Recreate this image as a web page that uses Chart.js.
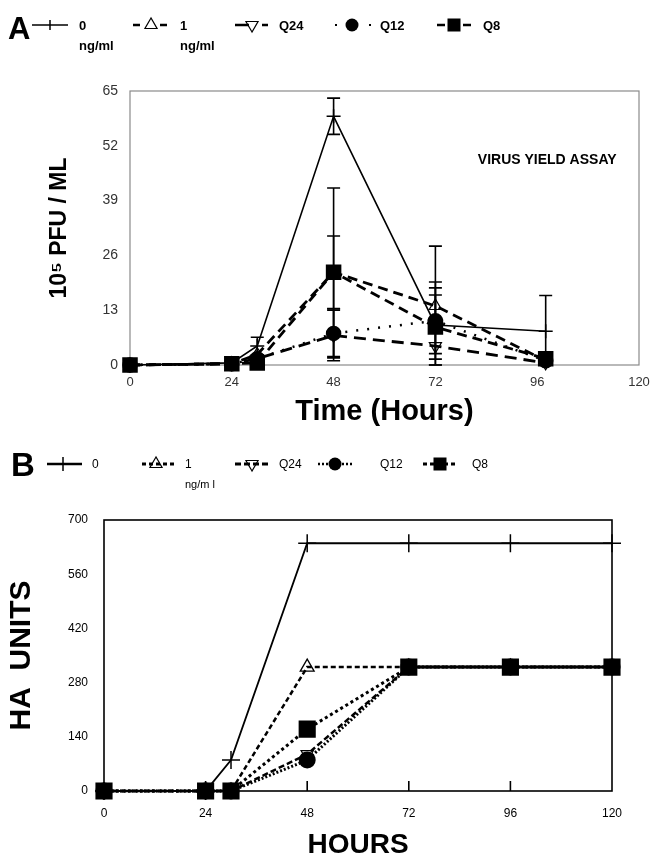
<!DOCTYPE html>
<html><head><meta charset="utf-8">
<script src="https://cdn.jsdelivr.net/npm/chart.js@4.4.0/dist/chart.umd.min.js"></script>
<style>
html,body{margin:0;padding:0;background:#fff;}
body{width:654px;height:859px;overflow:hidden;position:relative;font-family:"Liberation Sans",Arial,sans-serif;}
canvas{position:absolute;left:0;}
#ca{top:0;}
#cb{top:430px;}
.t{position:absolute;color:#000;white-space:nowrap;line-height:1;}
svg{position:absolute;left:0;overflow:visible;}
</style></head><body>
<canvas id="ca" width="654" height="430"></canvas>
<canvas id="cb" width="654" height="429"></canvas>
<div id="legends"></div>
<script>
// ---------- data: panel A (virus yield) ----------
const hoursA = [0, 24, 30, 48, 72, 98];
const yieldZero = [0, 0.5, 4.5, 59, 9.5, 8];
const yieldOne  = [0, 0.3, 2.5, 22, 14, 1];
const yieldQ24  = [0, 0.3, 1.5, 7, 4.5, 0.5];
const yieldQ12  = [0, 0.3, 1.5, 7.5, 10.5, 1];
const yieldQ8   = [0, 0.3, 0.5, 22, 9, 1.5];
const errZero = [0, 0, 2.1, 4.3, 18.7, 8.5];
const errOne  = [0, 0, 0, 8.6, 5.7, 0];
const errQ24  = [0, 0, 0, 6, 4.5, 0];
const errQ12  = [0, 0, 0, 5.8, 7.8, 0];
const errQ8   = [0, 0, 0, 20, 7.6, 0];
const xTicksA = [0, 24, 48, 72, 96, 120];
const yTicksA = [0, 13, 26, 39, 52, 65];

// ---------- data: panel B (HA units) ----------
const hoursB = [0, 24, 30, 48, 72, 96, 120];
const haZero = [0, 0, 80, 640, 640, 640, 640];
const haOne  = [0, 0, 0, 320, 320, 320, 320];
const haQ24  = [0, 0, 0, 95, 320, 320, 320];
const haQ12  = [0, 0, 0, 80, 320, 320, 320];
const haQ8   = [0, 0, 0, 160, 320, 320, 320];
const xTicksB = [0, 24, 48, 72, 96, 120];
const yTicksB = [0, 140, 280, 420, 560, 700];

const seriesNames = ['0', '1', 'Q24', 'Q12', 'Q8'];
const unitA = 'ng/ml';
const unitB = 'ng/m l';
const noteA = 'VIRUS YIELD ASSAY';

const FONT = '"Liberation Sans", Arial, sans-serif';
Chart.defaults.font.family = FONT;
Chart.defaults.color = '#000';

function pts(xs, ys) { return xs.map((x, i) => ({x: x, y: ys[i]})); }

const framePlugin = {
  id: 'frame',
  beforeDatasetsDraw(chart, args, opts) {
    const a = chart.chartArea, ctx = chart.ctx;
    ctx.save();
    ctx.strokeStyle = opts.color; ctx.lineWidth = opts.width;
    ctx.strokeRect(a.left, a.top, a.right - a.left, a.bottom - a.top);
    if (opts.innerTicks) {
      const xs = chart.scales.x;
      opts.innerTicks.forEach(v => {
        const px = xs.getPixelForValue(v);
        ctx.beginPath(); ctx.moveTo(px, a.bottom); ctx.lineTo(px, a.bottom - 10); ctx.stroke();
      });
    }
    ctx.restore();
  }
};

const errPlugin = {
  id: 'errbars',
  afterDatasetsDraw(chart, args, opts) {
    if (!opts.errs) return;
    const ctx = chart.ctx, xs = chart.scales.x, ys = chart.scales.y;
    ctx.save();
    ctx.strokeStyle = '#000'; ctx.lineWidth = 1.6; ctx.setLineDash([]);
    chart.data.datasets.forEach((ds, i) => {
      const e = opts.errs[i];
      ds.data.forEach((p, j) => {
        if (!e[j]) return;
        const px = xs.getPixelForValue(p.x);
        const top = ys.getPixelForValue(p.y + e[j]);
        const bot = ys.getPixelForValue(Math.max(0, p.y - e[j]));
        ctx.beginPath();
        ctx.moveTo(px, top); ctx.lineTo(px, bot);
        ctx.moveTo(px - 6.5, top); ctx.lineTo(px + 6.5, top);
        ctx.moveTo(px - 6.5, bot); ctx.lineTo(px + 6.5, bot);
        ctx.stroke();
      });
    });
    ctx.restore();
  }
};

const notePlugin = {
  id: 'note',
  afterDraw(chart, args, opts) {
    if (!opts.text) return;
    const ctx = chart.ctx;
    ctx.save();
    ctx.font = 'bold 14px ' + FONT;
    ctx.fillStyle = '#000'; ctx.textAlign = 'left'; ctx.textBaseline = 'middle';
    ctx.fillText(opts.text, chart.scales.x.getPixelForValue(opts.x), chart.scales.y.getPixelForValue(opts.y));
    ctx.restore();
  }
};

function ds(label, xs, ys, st) {
  return Object.assign({
    label: label, data: pts(xs, ys), borderColor: '#000', pointBorderColor: '#000',
    fill: false, tension: 0, clip: false
  }, st);
}
function noSidePad(s) { s.paddingLeft = 0; s.paddingRight = 0; }

// ---------- Chart A ----------
new Chart(document.getElementById('ca'), {
  type: 'line',
  data: { datasets: [
    ds(seriesNames[0], hoursA, yieldZero, {borderWidth: 1.6, pointStyle: 'cross', pointRadius: 7, pointBorderWidth: 1.5, order: 4}),
    ds(seriesNames[1], hoursA, yieldOne, {borderWidth: 2.8, borderDash: [10, 6], pointStyle: 'triangle', pointRadius: 7, pointBorderWidth: 1.2, pointBackgroundColor: 'rgba(0,0,0,0)', order: 3}),
    ds(seriesNames[2], hoursA, yieldQ24, {borderWidth: 2.8, borderDash: [12, 7], pointStyle: 'triangle', pointRotation: 180, pointRadius: 7, pointBorderWidth: 1.2, pointBackgroundColor: 'rgba(0,0,0,0)', order: 2}),
    ds(seriesNames[3], hoursA, yieldQ12, {borderWidth: 2.5, borderDash: [2, 9], pointStyle: 'circle', pointRadius: 6.5, pointBackgroundColor: '#000', order: 1}),
    ds(seriesNames[4], hoursA, yieldQ8, {borderWidth: 2.8, borderDash: [10, 6], pointStyle: 'rect', pointRadius: 9, pointBackgroundColor: '#000', order: 0})
  ]},
  options: {
    responsive: false, animation: false, events: [], devicePixelRatio: 1,
    layout: {padding: {left: 46, right: 15, top: 91, bottom: 0}},
    plugins: {
      legend: {display: false}, tooltip: {enabled: false},
      frame: {color: '#8a8a8a', width: 1.2},
      errbars: {errs: [errZero, errOne, errQ24, errQ12, errQ8]},
      note: {text: noteA, x: 82, y: 48.5}
    },
    scales: {
      x: {
        type: 'linear', min: 0, max: 120,
        afterBuildTicks: s => { s.ticks = xTicksA.map(v => ({value: v})); },
        afterFit: s => { s.height = 65; noSidePad(s); },
        grid: {display: false, drawTicks: false}, border: {display: false},
        ticks: {padding: 10, font: {size: 13}, color: '#333', maxRotation: 0, autoSkip: false},
        title: {display: true, text: 'Time (Hours)', font: {size: 29, weight: 'bold'}, color: '#000', padding: {top: 0, bottom: 1}}
      },
      y: {
        type: 'linear', min: 0, max: 65,
        afterBuildTicks: s => { s.ticks = yTicksA.map(v => ({value: v})); },
        afterFit: s => { s.width = 84; },
        grid: {display: false, drawTicks: false}, border: {display: false},
        ticks: {padding: 12, font: {size: 14}, color: '#333', autoSkip: false},
        title: {display: true, text: '10\u2075 PFU / ML', font: {size: 23, weight: 'bold'}, color: '#000', padding: {top: 0, bottom: 0}}
      }
    }
  },
  plugins: [framePlugin, errPlugin, notePlugin]
});

// ---------- Chart B ----------
new Chart(document.getElementById('cb'), {
  type: 'line',
  data: { datasets: [
    ds(seriesNames[0], hoursB, haZero, {borderWidth: 1.8, pointStyle: 'cross', pointRadius: 9, pointBorderWidth: 1.5, order: 4}),
    ds(seriesNames[1], hoursB, haOne, {borderWidth: 2.5, borderDash: [5, 3], pointStyle: 'triangle', pointRadius: 8, pointBorderWidth: 1.3, pointBackgroundColor: 'rgba(0,0,0,0)', order: 3}),
    ds(seriesNames[2], hoursB, haQ24, {borderWidth: 2.5, borderDash: [6, 3], pointStyle: 'triangle', pointRotation: 180, pointRadius: 7, pointBorderWidth: 1.3, pointBackgroundColor: 'rgba(0,0,0,0)', order: 2}),
    ds(seriesNames[3], hoursB, haQ12, {borderWidth: 3, borderDash: [2, 2], pointStyle: 'circle', pointRadius: 7, pointBackgroundColor: '#000', order: 1}),
    ds(seriesNames[4], hoursB, haQ8, {borderWidth: 3, borderDash: [3, 3], pointStyle: 'rect', pointRadius: 10, pointBackgroundColor: '#000', order: 0,
      segment: {borderDash: c => (c.p0.parsed.x >= 72 ? [] : [3, 3])}})
  ]},
  options: {
    responsive: false, animation: false, events: [], devicePixelRatio: 1,
    layout: {padding: {left: 4, right: 42, top: 90, bottom: 0}},
    plugins: {
      legend: {display: false}, tooltip: {enabled: false},
      frame: {color: '#000', width: 1.6, innerTicks: xTicksB.slice(1, -1)}
    },
    scales: {
      x: {
        type: 'linear', min: 0, max: 120,
        afterBuildTicks: s => { s.ticks = xTicksB.map(v => ({value: v})); },
        afterFit: s => { s.height = 68; noSidePad(s); },
        grid: {display: false, drawTicks: false}, border: {display: false},
        ticks: {padding: 15, font: {size: 12}, color: '#000', maxRotation: 0, autoSkip: false},
        title: {display: true, text: 'HOURS', font: {size: 28, weight: 'bold', lineHeight: 1}, color: '#000', padding: {top: 0, bottom: 0}}
      },
      y: {
        type: 'linear', min: 0, max: 700,
        afterBuildTicks: s => { s.ticks = yTicksB.map(v => ({value: v})); },
        afterFit: s => { s.width = 100; },
        grid: {display: false, drawTicks: false}, border: {display: false},
        ticks: {padding: 16, font: {size: 12}, color: '#000', autoSkip: false},
        title: {display: true, text: 'HA  UNITS', font: {size: 30, weight: 'bold'}, color: '#000', padding: {top: 0, bottom: 0}}
      }
    }
  },
  plugins: [framePlugin]
});

// ---------- HTML legends ----------
const L = document.getElementById('legends');
function addText(txt, x, y, size, weight) {
  const d = document.createElement('div');
  d.className = 't'; d.textContent = txt;
  d.style.left = x + 'px'; d.style.top = (y - size / 2) + 'px';
  d.style.fontSize = size + 'px'; d.style.fontWeight = weight;
  L.appendChild(d);
}
function marker(m, mx, y, s) {
  const k = s * 0.866;
  if (m === 'plus') return `<line x1="${mx}" y1="${y - s}" x2="${mx}" y2="${y + s}" stroke="#000" stroke-width="1.5"/>`;
  if (m === 'tri') return `<polygon points="${mx},${y - s} ${mx - k},${y + s / 2} ${mx + k},${y + s / 2}" fill="none" stroke="#000" stroke-width="1.2"/>`;
  if (m === 'itri') return `<polygon points="${mx},${y + s} ${mx - k},${y - s / 2} ${mx + k},${y - s / 2}" fill="none" stroke="#000" stroke-width="1.2"/>`;
  if (m === 'circle') return `<circle cx="${mx}" cy="${y}" r="${s}" fill="#000"/>`;
  if (m === 'rect') return `<rect x="${mx - s}" y="${y - s}" width="${2 * s}" height="${2 * s}" fill="#000"/>`;
  return '';
}
function legend(top, items, rowY) {
  let svg = `<svg width="654" height="60" style="top:${top}px">`;
  items.forEach(it => {
    svg += `<line x1="${it.x1}" y1="${rowY}" x2="${it.x2}" y2="${rowY}" stroke="#000" stroke-width="${it.w}" ${it.dash ? 'stroke-dasharray="' + it.dash + '"' : ''}/>`;
    svg += marker(it.m, it.mx, rowY, it.s);
  });
  svg += '</svg>';
  L.insertAdjacentHTML('beforeend', svg);
}
// Panel A legend
addText('A', 8, 28, 31, 'bold');
legend(0, [
  {x1: 32, x2: 68, w: 1.5, dash: '', m: 'plus', mx: 50, s: 5},
  {x1: 133, x2: 168, w: 2.5, dash: '7,20', m: 'tri', mx: 151, s: 7},
  {x1: 235, x2: 268, w: 2.5, dash: '14,13,6', m: 'itri', mx: 252, s: 7},
  {x1: 335, x2: 371, w: 2, dash: '2,32', m: 'circle', mx: 352, s: 6.5},
  {x1: 437, x2: 472, w: 2.5, dash: '8,18', m: 'rect', mx: 454, s: 6.5}
], 25);
[[seriesNames[0], 79], [seriesNames[1], 180], [seriesNames[2], 279], [seriesNames[3], 380], [seriesNames[4], 483]].forEach(a => addText(a[0], a[1], 25, 13, 'bold'));
addText(unitA, 79, 45, 13, 'bold');
addText(unitA, 180, 45, 13, 'bold');
// Panel B legend
addText('B', 11, 464, 33, 'bold');
legend(410, [
  {x1: 47, x2: 82, w: 2.5, dash: '', m: 'plus', mx: 63, s: 7},
  {x1: 142, x2: 175, w: 3, dash: '4,3', m: 'tri', mx: 156, s: 7},
  {x1: 235, x2: 270, w: 3, dash: '6,3', m: 'itri', mx: 252, s: 7},
  {x1: 318, x2: 352, w: 2.5, dash: '2,2', m: 'circle', mx: 335, s: 6.5},
  {x1: 423, x2: 457, w: 3, dash: '4,3', m: 'rect', mx: 440, s: 6.5}
], 54);
[[seriesNames[0], 92], [seriesNames[1], 185], [seriesNames[2], 279], [seriesNames[3], 380], [seriesNames[4], 472]].forEach(a => addText(a[0], a[1], 464, 12, 'normal'));
addText(unitB, 185, 484, 11, 'normal');
</script>
</body></html>
